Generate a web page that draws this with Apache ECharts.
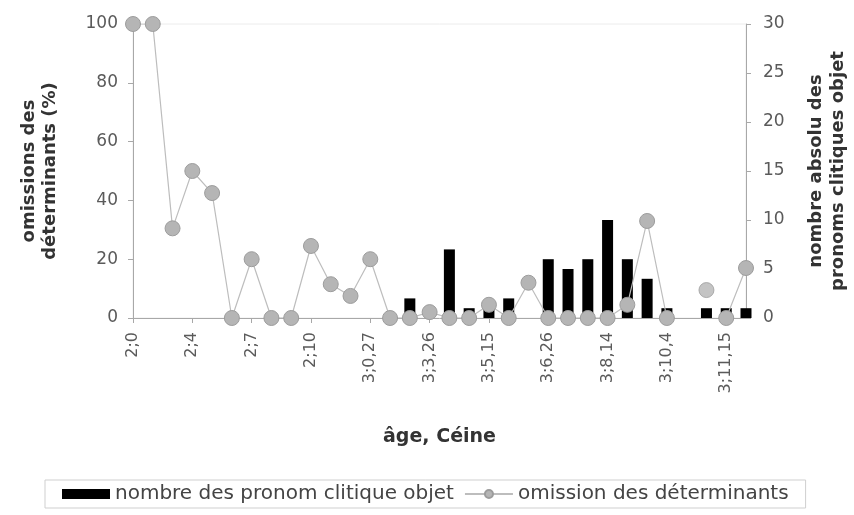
<!DOCTYPE html>
<html>
<head>
<meta charset="utf-8">
<script src="https://cdn.jsdelivr.net/npm/echarts@6/dist/echarts.min.js"></script>
<style>
html,body{margin:0;padding:0;background:#fff;}
#chart{width:854px;height:515px;}
</style>
</head>
<body>
<div id="chart"></div>
<script>
// Categories (ages); only every third label is visible in the reference
const ages = ['2;0','2;1','2;2','2;4','2;5','2;6','2;7','2;8','2;9','2;10','2;11','3;0','3;0,27','3;1','3;2',
  '3;3,26','3;4','3;5','3;5,15','3;6','3;6,12','3;6,26','3;7','3;8','3;8,14','3;9','3;10','3;10,4','3;10,20','3;11','3;11,15','4;0'];
// omission des déterminants (%), left axis
const omission = [100,100,30.5,50,42.5,0,20,0,0,24.5,11.5,7.5,20,0,0,2,0,0,4.5,0,12,0,0,0,0,4.5,33,0,null,9.5,0,17];
// indices of points drawn without connecting line
const isolatedPoints = [29];
// nombre des pronoms clitiques objet, right axis
const pronoms = [null,null,null,null,null,null,null,null,null,null,null,null,null,null,2,null,7,1,1,2,null,6,5,6,10,6,4,1,null,1,1,1];
const leftTicks = [0,20,40,60,80,100];
const rightTicks = [0,5,10,15,20,25,30];

const lineData = omission.map((v,i)=> isolatedPoints.includes(i) ? null : v);
const isoData = omission.map((v,i)=> isolatedPoints.includes(i) ? v : null);

const FONT = '"DejaVu Sans", sans-serif';
const axisCol = '#a8a8a8';
const labelCol = '#5a5a5a';
const markerStyle = {color:'#b5b5b5', borderColor:'#9c9c9c', borderWidth:1};

const chart = echarts.init(document.getElementById('chart'), null, {renderer:'canvas'});
chart.setOption({
  animation:false,
  textStyle:{fontFamily:FONT},
  grid:{left:133, right:108, top:24, bottom:197, containLabel:false, outerBoundsMode:'none',
        show:true, borderColor:'#ececec', borderWidth:1},
  legend:{
    data:[{name:'nombre des pronom clitique objet', icon:'rect'},{name:'omission des déterminants'}],
    bottom:7, left:45,
    borderColor:'#cfcfcf', borderWidth:1, padding:[4,17],
    itemWidth:48, itemHeight:10, itemGap:10,
    textStyle:{fontSize:20, color:'#444', fontFamily:FONT}
  },
  xAxis:{
    type:'category', data:ages, boundaryGap:false,
    name:'âge, Céine', nameLocation:'middle', nameGap:110,
    nameTextStyle:{fontSize:19, fontWeight:'bold', color:'#333', fontFamily:FONT},
    axisLine:{lineStyle:{color:axisCol}},
    axisTick:{interval:2, length:5, lineStyle:{color:axisCol}},
    axisLabel:{interval:2, rotate:90, fontSize:16, color:labelCol, margin:14, fontFamily:FONT},
    splitLine:{show:false}
  },
  yAxis:[{
    type:'value', min:leftTicks[0], max:leftTicks[leftTicks.length-1], interval:20,
    name:'omissions des\ndéterminants (%)', nameLocation:'middle', nameGap:72, nameRotate:90,
    nameTextStyle:{fontSize:18, fontWeight:'bold', color:'#333', lineHeight:21, fontFamily:FONT},
    axisLine:{show:true, lineStyle:{color:axisCol}},
    axisTick:{show:true, length:5, lineStyle:{color:axisCol}},
    axisLabel:{fontSize:17, color:labelCol, margin:15, fontFamily:FONT},
    splitLine:{show:false}
  },{
    type:'value', min:rightTicks[0], max:rightTicks[rightTicks.length-1], interval:5,
    name:'nombre absolu des\npronoms clitiques objet', nameLocation:'middle', nameGap:59, nameRotate:90,
    nameTextStyle:{fontSize:18, fontWeight:'bold', color:'#333', lineHeight:22, fontFamily:FONT},
    axisLine:{show:true, lineStyle:{color:axisCol}},
    axisTick:{show:true, length:5, lineStyle:{color:axisCol}},
    axisLabel:{fontSize:17, color:labelCol, margin:17, fontFamily:FONT},
    splitLine:{show:false}
  }],
  series:[{
    name:'nombre des pronom clitique objet', type:'bar', yAxisIndex:1,
    data:pronoms, barWidth:11, itemStyle:{color:'#000'}, clip:true, z:2
  },{
    name:'omission des déterminants', type:'line', yAxisIndex:0,
    data:lineData, connectNulls:false, symbol:'circle', symbolSize:15, showAllSymbol:true,
    lineStyle:{color:'#bdbdbd', width:1.2}, itemStyle:markerStyle, z:3
  },{
    name:'omission des déterminants', type:'scatter', yAxisIndex:0,
    data:isoData, symbol:'circle', symbolSize:15, itemStyle:markerStyle, z:3
  }]
});
</script>
</body>
</html>
